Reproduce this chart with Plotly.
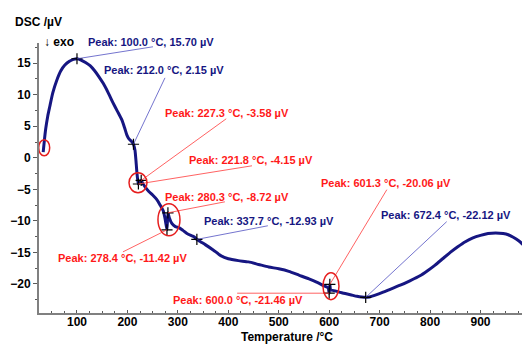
import plotly.graph_objects as go

# ---- data ----
temperature = [33, 35, 38, 42, 46, 52, 60, 68, 76, 85, 93, 100, 108, 117, 126, 135, 144, 152, 162, 171,
               180, 189, 195, 199, 203, 207, 210, 212, 215, 217, 219, 221, 221.8, 224, 227.3, 230, 235,
               242, 250, 258, 265, 271, 275, 278.4, 280.3, 283, 288, 295, 303, 310, 318, 326, 332, 337.7,
               345, 355, 370, 385, 400, 420, 440, 460, 480, 500, 520, 540, 560, 575, 590, 598, 600.0,
               601.3, 603, 612, 625, 642, 655, 665, 672.4, 680, 690, 707, 722, 741, 760, 780, 795, 810,
               825, 840, 855, 870, 885, 900, 915, 930, 945, 955, 965, 975, 985]
dsc = [0.9, 2.5, 4.6, 6.6, 8.1, 10.3, 12.3, 13.8, 14.7, 15.3, 15.6, 15.70, 15.5, 15.1, 14.6, 13.8, 12.8,
       11.8, 10.3, 8.8, 7.4, 6.0, 4.6, 3.6, 3.0, 2.7, 2.4, 2.15, 1.2, -0.5, -2.5, -3.8, -4.15, -3.8, -3.58,
       -4.0, -4.6, -5.3, -5.9, -6.6, -7.5, -8.4, -9.8, -11.42, -8.72, -9.5, -10.4, -10.9, -11.1, -11.5,
       -12.0, -12.3, -12.5, -12.93, -13.3, -13.8, -14.6, -15.5, -16.0, -16.3, -16.5, -16.9, -17.3, -17.6,
       -18.0, -18.6, -19.2, -19.7, -20.3, -20.6, -21.46, -20.06, -20.9, -21.1, -21.4, -21.7, -21.95,
       -22.08, -22.12, -22.05, -21.8, -21.3, -20.8, -20.2, -19.5, -18.7, -17.9, -17.0, -16.0, -15.0,
       -14.1, -13.3, -12.7, -12.3, -12.0, -11.9, -12.0, -12.2, -12.6, -13.1, -13.8]

peak_temps = [100.0, 212.0, 227.3, 221.8, 280.3, 278.4, 337.7, 600.0, 601.3, 672.4]
peak_vals = [15.70, 2.15, -3.58, -4.15, -8.72, -11.42, -12.93, -21.46, -20.06, -22.12]

x_ticks = [100, 200, 300, 400, 500, 600, 700, 800, 900]
y_ticks = [15, 10, 5, 0, -5, -10, -15, -20]

# ---- styling / layout config ----
NAVY = "rgb(22,22,130)"
RED = "rgb(255,25,25)"
peak_colors = [NAVY, NAVY, RED, RED, RED, RED, NAVY, RED, RED, NAVY]
# leader line end offsets (px, y up) and label offsets (left edge, vertical centre)
leader_off = [(76, 12), (31.5, 66.4), (85, 61.6), (113.6, 18.2), (57, 11), (-44, -22),
              (71, 13.6), (-92, 0), (57, 94.7), (81, 75.7)]
label_off = [(10, 17), (-30.5, 74.4), (22.8, 67.6), (49.6, 24.2), (-3.9, 16.1), (-110, -27.9),
             (6.1, 18.6), (-157.2, -6.5), (-9.9, 101.7), (14.3, 82.7)]
# red ellipses: (anchor x, anchor y, x0, x1, y0, y1) pixel offsets
ellipses = [(temperature[0], dsc[0], -4.5, 6.5, -3.7, 12.5),
            (peak_temps[3], peak_vals[3], -9.4, 8.6, -8.8, 11.2),
            (peak_temps[5], peak_vals[5], -9, 13, -5.9, 26.1),
            (peak_temps[7], peak_vals[7], -6.2, 9.8, -6.5, 20.5)]

FONT = "Liberation Sans, Arial, sans-serif"

fig = go.Figure()
fig.add_trace(go.Scatter(x=temperature, y=dsc, mode="lines",
                         line=dict(color=NAVY, width=3, shape="spline", smoothing=0.6),
                         hoverinfo="skip", showlegend=False))
fig.add_trace(go.Scatter(x=peak_temps, y=peak_vals, mode="markers",
                         marker=dict(symbol="cross-thin", size=8, line=dict(color="black", width=1.2)),
                         showlegend=False, hoverinfo="skip"))

shapes = []
annotations = []
for t, v, c, (lx, ly), (tx, ty) in zip(peak_temps, peak_vals, peak_colors, leader_off, label_off):
    lc = "rgba(70,70,190,0.75)" if c == NAVY else "rgba(255,70,70,0.85)"
    shapes.append(dict(type="line", xref="x", yref="y", xsizemode="pixel", ysizemode="pixel",
                       xanchor=t, yanchor=v, x0=0, y0=0, x1=lx, y1=ly,
                       line=dict(color=lc, width=1)))
    annotations.append(dict(x=t, y=v, xref="x", yref="y", xanchor="left", yanchor="middle",
                            xshift=tx, yshift=ty, showarrow=False, borderpad=0,
                            text=f"Peak: {t:.1f} °C, {v:.2f} µV",
                            font=dict(family=FONT, size=11, color=c, weight="bold")))
for ax, ay, x0, x1, y0, y1 in ellipses:
    shapes.append(dict(type="circle", xref="x", yref="y", xsizemode="pixel", ysizemode="pixel",
                       xanchor=ax, yanchor=ay, x0=x0, x1=x1, y0=y0, y1=y1,
                       line=dict(color="rgb(230,30,30)", width=1.5)))

annotations += [
    dict(x=14, y=22, xref="paper", yref="paper", text="DSC /µV", showarrow=False),
    dict(x=43, y=42, xref="paper", yref="paper", text="↓ exo", showarrow=False),
    dict(x=240, y=336.5, xref="paper", yref="paper", text="Temperature /°C", showarrow=False),
]
# convert pixel positions of the three title annotations into paper coords
W, H, L, R, T, B = 522, 344, 39, 0, 43, 31
for a in annotations[-3:]:
    a["x"] = (a["x"] - L) / (W - L - R)
    a["y"] = 1 - (a["y"] - T) / (H - T - B)
    a["xanchor"] = "left"
    a["yanchor"] = "middle"
    a["borderpad"] = 0
    a["font"] = dict(family=FONT, size=12, color="black", weight="bold")

fig.update_layout(
    width=W, height=H, margin=dict(l=L, r=R, t=T, b=B),
    paper_bgcolor="white", plot_bgcolor="white",
    shapes=shapes, annotations=annotations,
    xaxis=dict(range=[24.7, 982.3], tickvals=x_ticks, showgrid=False, zeroline=False,
               showline=True, linecolor="rgb(128,128,128)", linewidth=2,
               ticks="inside", ticklen=3, tickcolor="rgb(90,90,90)", ticklabelstandoff=-3,
               minor=dict(dtick=25, tick0=0, ticks="inside", ticklen=2, tickcolor="rgb(90,90,90)"),
               tickfont=dict(family=FONT, size=12, color="black", weight="bold")),
    yaxis=dict(range=[-24.6, 18.2], tickvals=y_ticks, showgrid=False, zeroline=False,
               showline=True, linecolor="rgb(128,128,128)", linewidth=2,
               ticks="outside", ticklen=4, tickcolor="rgb(90,90,90)",
               minor=dict(dtick=2.5, tick0=0, ticks="outside", ticklen=2, tickcolor="rgb(90,90,90)"),
               tickfont=dict(family=FONT, size=12, color="black", weight="bold")),
)
fig.write_html("out.html")
